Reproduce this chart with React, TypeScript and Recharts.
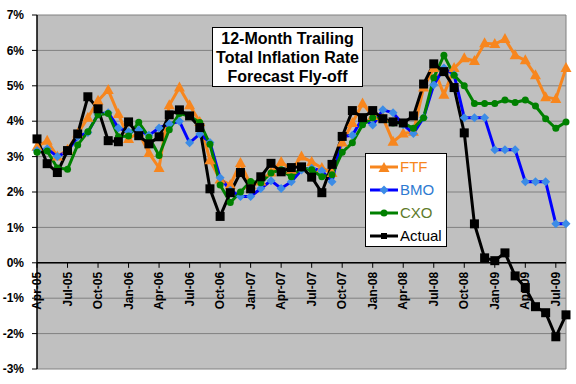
import { LineChart, Line, XAxis, YAxis, CartesianGrid, ReferenceLine } from "recharts";

const months = [
  "Apr-05", "May-05", "Jun-05", "Jul-05", "Aug-05", "Sep-05", "Oct-05", "Nov-05", "Dec-05",
  "Jan-06", "Feb-06", "Mar-06", "Apr-06", "May-06", "Jun-06", "Jul-06", "Aug-06", "Sep-06", "Oct-06", "Nov-06", "Dec-06",
  "Jan-07", "Feb-07", "Mar-07", "Apr-07", "May-07", "Jun-07", "Jul-07", "Aug-07", "Sep-07", "Oct-07", "Nov-07", "Dec-07",
  "Jan-08", "Feb-08", "Mar-08", "Apr-08", "May-08", "Jun-08", "Jul-08", "Aug-08", "Sep-08", "Oct-08", "Nov-08", "Dec-08",
  "Jan-09", "Feb-09", "Mar-09", "Apr-09", "May-09", "Jun-09", "Jul-09", "Aug-09",
];

const ftf = [
  3.28, 3.45, 3.0, 3.19, 3.65, 4.1, 4.58, 4.88, 4.2, 3.5,
  3.68, 3.1, 2.68, 4.45, 4.95, 4.45, 3.98, 2.9, 2.35, 2.2,
  2.82, 2.2, 2.3, 2.55, 2.85, 2.63, 3.0, 2.85, 2.68, 2.54,
  3.4, 3.95, 4.5, 4.15, 4.1, 3.42, 3.65, 3.7, 4.95, 5.5,
  4.75, 5.5, 5.78, 5.7, 6.2, 6.18, 6.32, 5.86, 5.72, 5.3,
  4.68, 4.63, 5.5,
];

const bmo = [
  3.17, 3.22, 3.0, 3.15, 3.56, 3.68, 4.2, 4.24, 3.81, 3.7,
  3.75, 3.6, 3.81, 3.92, 4.0, 3.39, 3.64, 3.4, 2.4, 2.05,
  1.87, 1.87, 2.1, 2.32, 2.1, 2.29, 2.62, 2.67, 2.6, 2.29,
  3.57, 3.6, 4.08, 3.89, 4.32, 4.24, 3.9, 3.65, 4.1, 5.03,
  5.5, 5.31, 4.1, 4.1, 4.1, 3.19, 3.19, 3.19, 2.29, 2.29,
  2.29, 1.1, 1.1,
];

const cxo = [
  3.12, 3.16, 2.68, 2.64, 3.33, 3.7, 4.18, 4.22, 3.56, 3.58,
  3.97, 3.55, 3.03, 3.76, 4.22, 4.14, 3.96, 3.35, 2.2, 1.7,
  2.0, 2.3, 2.26, 2.54, 2.63, 2.43, 2.68, 2.63, 2.43, 2.49,
  3.12, 3.39, 3.9, 4.1, 4.05, 3.95, 3.95, 3.8, 4.1, 5.23,
  5.86, 5.3, 5.0, 4.5, 4.5, 4.5, 4.6, 4.53, 4.6, 4.43,
  4.07, 3.8, 3.98,
];

const actual = [
  3.5, 2.8, 2.55, 3.17, 3.64, 4.69, 4.35, 3.45, 3.42, 3.98,
  3.59, 3.36, 3.56, 4.18, 4.32, 4.15, 3.82, 2.09, 1.31, 1.98,
  2.55, 2.09, 2.43, 2.81, 2.57, 2.69, 2.71, 2.42, 1.98, 2.78,
  3.57, 4.3, 4.1, 4.3, 4.07, 3.98, 3.95, 4.15, 5.05, 5.62,
  5.4, 4.95, 3.67, 1.1, 0.14, 0.06, 0.28, -0.37, -0.7, -1.24,
  -1.41, -2.09, -1.47,
];

const yTicks = [-3, -2, -1, 0, 1, 2, 3, 4, 5, 6, 7];

const data = months.map((m, i) => ({
  month: m,
  FTF: ftf[i],
  BMO: bmo[i],
  CXO: cxo[i],
  Actual: actual[i],
}));

const FONT = "Arial, 'Liberation Sans', sans-serif";
const ORANGE = "#F7861E";
const BLUE = "#0000FF";
const BLUE_DOT = "#3C8CE6";
const GREEN = "#008000";

// chart geometry
const W = 576;
const H = 384;
const M = { top: 15, right: 10, bottom: 14, left: 0 };
const X_AXIS_H = 1;
const Y_AXIS_W = 37;
const PLOT_H = H - M.top - M.bottom - X_AXIS_H;
// y pixel of the 0% line (x labels hang from it)
const ZERO_Y = M.top + (PLOT_H * yTicks[yTicks.length - 1]) / (yTicks[yTicks.length - 1] - yTicks[0]);

const Triangle = ({ cx, cy, color }: any) => (
  <path d={`M${cx},${cy - 6} L${cx + 5.5},${cy + 4} L${cx - 5.5},${cy + 4} Z`} fill={color} />
);
const Diamond = ({ cx, cy }: any) => (
  <path d={`M${cx},${cy - 4.5} L${cx + 4.5},${cy} L${cx},${cy + 4.5} L${cx - 4.5},${cy} Z`} fill={BLUE_DOT} />
);
const Circle = ({ cx, cy }: any) => <circle cx={cx} cy={cy} r={3.5} fill={GREEN} />;
const Square = ({ cx, cy }: any) => <rect x={cx - 4.5} y={cy - 4.5} width={9} height={9} fill="#000" />;

const MonthTick = ({ x, payload }: any) => (
  <g>
    <line x1={x} x2={x} y1={ZERO_Y} y2={ZERO_Y + 5} stroke="#000" strokeWidth={1} />
    <text
      x={x}
      y={ZERO_Y + 9}
      transform={`rotate(-90, ${x}, ${ZERO_Y + 9})`}
      textAnchor="end"
      dominantBaseline="central"
      fontFamily={FONT}
      fontWeight="bold"
      fontSize={12}
      fill="#000"
    >
      {payload.value}
    </text>
  </g>
);

const legendItems = [
  { name: "FTF", color: ORANGE, text: ORANGE, shape: "tri" },
  { name: "BMO", color: BLUE, text: "#2E7AD1", shape: "dia" },
  { name: "CXO", color: GREEN, text: "#5E7A2A", shape: "circ" },
  { name: "Actual", color: "#000", text: "#000", shape: "sq" },
];

const LegendMark = ({ color, shape }: any) => (
  <svg width={28} height={12} style={{ display: "block" }}>
    <line x1={0} x2={28} y1={6} y2={6} stroke={color} strokeWidth={3} />
    {shape === "tri" && <Triangle cx={14} cy={7} color={ORANGE} />}
    {shape === "dia" && <Diamond cx={14} cy={6} />}
    {shape === "circ" && <Circle cx={14} cy={6} />}
    {shape === "sq" && <rect x={11} y={3} width={6} height={6} fill="#000" />}
  </svg>
);

export default function App() {
  return (
    <div style={{ position: "absolute", left: 0, top: 0, width: W, height: H, background: "#fff" }}>
      <LineChart width={W} height={H} data={data} margin={M}>
        <CartesianGrid vertical={false} stroke="#808080" strokeWidth={1} fill="#C0C0C0" />
        <XAxis
          dataKey="month"
          interval={2}
          height={X_AXIS_H}
          tickSize={0}
          tickMargin={0}
          axisLine={false}
          tickLine={false}
          tick={<MonthTick />}
        />
        <YAxis
          domain={[-3, 7]}
          ticks={yTicks}
          width={Y_AXIS_W}
          tickFormatter={(v: number) => `${v}%`}
          tick={{ fontFamily: FONT, fontWeight: "bold", fontSize: 12, fill: "#000" }}
          tickSize={5}
          tickMargin={8}
          axisLine={{ stroke: "#000", strokeWidth: 1.5 }}
          tickLine={{ stroke: "#000" }}
        />
        <ReferenceLine x="Aug-09" stroke="#808080" strokeWidth={1} />
        <ReferenceLine y={0} stroke="#000" strokeWidth={1.5} />
        <Line
          dataKey="FTF"
          stroke={ORANGE}
          strokeWidth={3}
          isAnimationActive={false}
          dot={(p: any) => <Triangle key={p.index} cx={p.cx} cy={p.cy} color={ORANGE} />}
        />
        <Line
          dataKey="BMO"
          stroke={BLUE}
          strokeWidth={3}
          isAnimationActive={false}
          dot={(p: any) => <Diamond key={p.index} cx={p.cx} cy={p.cy} />}
        />
        <Line
          dataKey="CXO"
          stroke={GREEN}
          strokeWidth={3}
          isAnimationActive={false}
          dot={(p: any) => <Circle key={p.index} cx={p.cx} cy={p.cy} />}
        />
        <Line
          dataKey="Actual"
          stroke="#000"
          strokeWidth={3}
          isAnimationActive={false}
          dot={(p: any) => <Square key={p.index} cx={p.cx} cy={p.cy} />}
        />
      </LineChart>

      {/* title box */}
      <div
        style={{
          position: "absolute",
          left: 212,
          top: 27,
          width: 149,
          height: 57,
          background: "#fff",
          border: "1px solid #000",
          fontFamily: FONT,
          fontWeight: "bold",
          fontSize: 16,
          lineHeight: "19px",
          textAlign: "center",
          paddingTop: 1,
          boxSizing: "content-box",
        }}
      >
        <div>12-Month Trailing</div>
        <div>Total Inflation Rate</div>
        <div>Forecast Fly-off</div>
      </div>

      {/* legend */}
      <div
        style={{
          position: "absolute",
          left: 365,
          top: 153,
          width: 80,
          height: 91,
          background: "#fff",
          border: "1px solid #000",
          fontFamily: FONT,
          fontSize: 15,
          paddingTop: 1,
        }}
      >
        {legendItems.map((it) => (
          <div key={it.name} style={{ display: "flex", alignItems: "center", height: 23, paddingLeft: 4 }}>
            <LegendMark color={it.color} shape={it.shape} />
            <span style={{ color: it.text, marginLeft: 2 }}>{it.name}</span>
          </div>
        ))}
      </div>
    </div>
  );
}
